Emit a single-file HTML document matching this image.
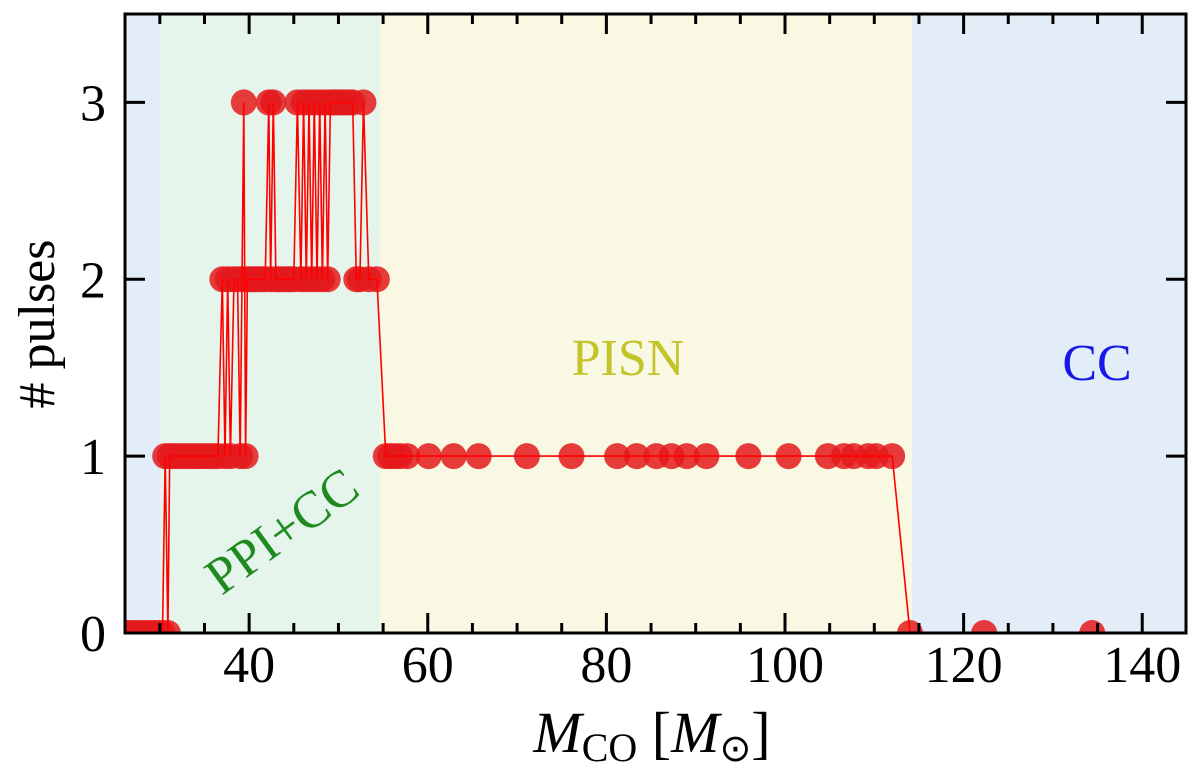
<!DOCTYPE html>
<html><head><meta charset="utf-8"><style>
html,body{margin:0;padding:0;background:#fff;}
svg text{font-family:"Liberation Serif",serif;}
</style></head><body>
<svg id="chart" width="1200" height="773" viewBox="0 0 1200 773" xmlns="http://www.w3.org/2000/svg">
<g id="regions"></g>
<g id="region-labels">
<text x="292" y="545" font-size="52" fill="#1f8a1f" text-anchor="middle" transform="rotate(-36 292 545)">PPI+CC</text>
<text x="628" y="375" font-size="52" fill="#c4c42a" text-anchor="middle">PISN</text>
<text x="1097" y="380" font-size="52" fill="#1818e8" text-anchor="middle">CC</text>
</g>
<g id="series"></g>
<g id="axes"></g>
<text x="54" y="324" font-size="52" text-anchor="middle" transform="rotate(-90 54 324)"># pulses</text>
<text x="652" y="752" font-size="58" text-anchor="middle"><tspan font-style="italic">M</tspan><tspan font-size="40" dy="9">CO</tspan><tspan dy="-9"> [</tspan><tspan font-style="italic">M</tspan><tspan font-size="38" dy="9">⊙</tspan><tspan dy="-9">]</tspan></text>
</svg>
<script>
const xTicks=[40,60,80,100,120,140];
const yTicks=[0,1,2,3];
const regionBounds=[26.1,30.1,54.6,114.2,144.9];
const regionColors=["#e3edf8","#e6f5ec","#f8f8e3","#e3edf8"];
const massX=[26.3,26.8,27.3,27.8,28.3,28.8,29.3,29.8,30.3,30.6,30.9,31.1,31.5,32.0,32.5,33.0,33.5,34.0,34.5,35.0,35.5,36.0,36.5,37.0,37.3,37.6,37.9,38.3,38.7,39.0,39.2,39.4,39.6,39.8,40.2,40.6,41.0,41.4,41.8,42.2,42.4,42.7,43.0,43.4,43.8,44.2,44.6,45.0,45.4,45.8,46.1,46.4,46.7,47.0,47.3,47.6,47.9,48.2,48.5,48.8,49.1,49.4,49.7,50.0,50.4,50.8,51.2,51.6,52.0,52.4,52.8,53.4,54.3,55.3,55.8,56.3,56.9,57.7,60.1,62.9,65.7,71.1,76.1,81.2,83.4,85.6,87.3,89.0,91.2,95.9,100.4,104.8,106.6,107.7,109.3,110.2,112.0,114.0,122.3,134.4];
const pulses=[0,0,0,0,0,0,0,0,0,1,0,1,1,1,1,1,1,1,1,1,1,1,1,2,1,2,1,2,2,1,2,3,1,2,2,2,2,2,2,3,2,3,2,2,2,2,2,2,3,2,3,2,3,2,3,2,3,2,3,2,3,3,3,3,3,3,3,3,2,2,3,2,2,1,1,1,1,1,1,1,1,1,1,1,1,1,1,1,1,1,1,1,1,1,1,1,1,0,0,0];
const L=125,R=1186,T=14,B=633,X0=26.1,X1=144.9,Y0=0,Y1=3.5;
const sx=v=>L+(v-X0)/(X1-X0)*(R-L);
const sy=v=>B-(v-Y0)/(Y1-Y0)*(B-T);
const NS="http://www.w3.org/2000/svg";
function mk(tag,attrs,parent){const e=document.createElementNS(NS,tag);for(const k in attrs)e.setAttribute(k,attrs[k]);parent.appendChild(e);return e;}
const rg=document.getElementById('regions');
for(let i=0;i<regionColors.length;i++){
 const r=mk('rect',{x:sx(regionBounds[i]),y:T,width:sx(regionBounds[i+1])-sx(regionBounds[i]),height:B-T,fill:regionColors[i]},rg);
 
 
}
const sg=document.getElementById('series');
const pts=massX.map((x,i)=>sx(x).toFixed(1)+','+sy(pulses[i]).toFixed(1)).join(' ');
const cp=mk('clipPath',{id:'clip'},sg);mk('rect',{x:L,y:T,width:R-L,height:B-T},cp);
const mg=mk('g',{'clip-path':'url(#clip)'},sg);
massX.forEach((x,i)=>{
 const c=mk('circle',{cx:sx(x),cy:sy(pulses[i]),r:13,fill:'#e41a1c','fill-opacity':0.85},mg);
 
 
});
const pl=mk('polyline',{points:pts,fill:'none',stroke:'#ff0000','stroke-width':1.6},mg);


const ax=document.getElementById('axes');
const fr=mk('rect',{x:L,y:T,width:R-L,height:B-T,fill:'none',stroke:'#000','stroke-width':3},ax);


for(let v=30;v<=140;v+=5){
 const major=v%20===0,len=major?20:10,x=sx(v);
 mk('line',{x1:x,y1:B,x2:x,y2:B-len,stroke:'#000','stroke-width':3},ax);
 mk('line',{x1:x,y1:T,x2:x,y2:T+len,stroke:'#000','stroke-width':3},ax);
}
xTicks.forEach(v=>{
 const t=mk('text',{x:sx(v),y:682,'font-size':52,'text-anchor':'middle'},ax);t.textContent=v;
 
 
});
yTicks.forEach(v=>{
 const y=sy(v);
 mk('line',{x1:L,y1:y,x2:L+20,y2:y,stroke:'#000','stroke-width':3},ax);
 mk('line',{x1:R,y1:y,x2:R-20,y2:y,stroke:'#000','stroke-width':3},ax);
 const t=mk('text',{x:106,y:y+18,'font-size':52,'text-anchor':'end'},ax);t.textContent=v;
 
 
});
</script>
</body></html>
